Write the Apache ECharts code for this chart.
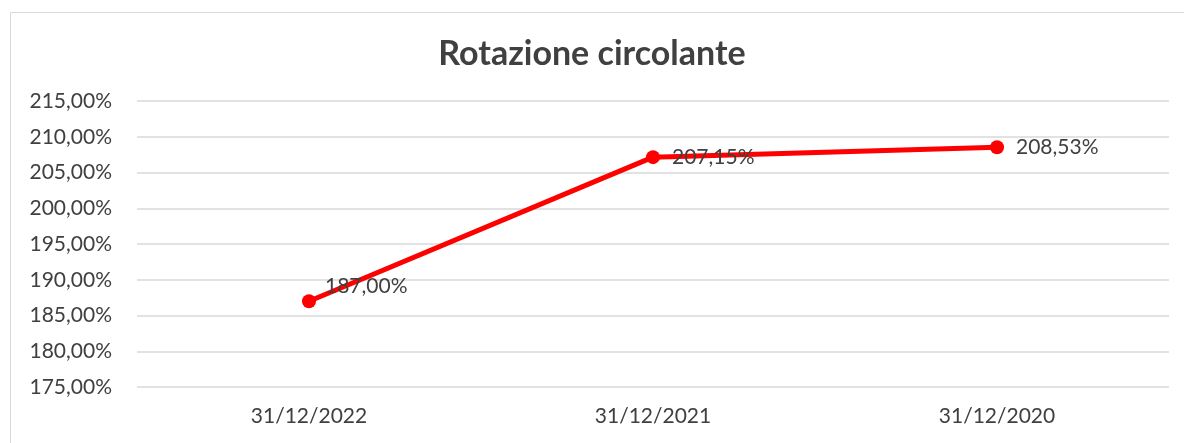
<!DOCTYPE html>
<html>
<head>
<meta charset="utf-8">
<script src="https://cdn.jsdelivr.net/npm/echarts@6/dist/echarts.min.js"></script>
<style>
  html, body { margin: 0; padding: 0; background: #fff; }
  #chart { width: 1184px; height: 443px; }
</style>
</head>
<body>
<div id="chart"></div>
<script>
// dati
const categories = ['31/12/2022', '31/12/2021', '31/12/2020'];
const values = [187.00, 207.15, 208.53];
const yMin = 175, yMax = 215, yStep = 5;

const font = 'Lato, "Open Sans", sans-serif';
const fmt = v => v.toFixed(2).replace('.', ',') + '%';

const chart = echarts.init(document.getElementById('chart'));

const seriesData = values.map((v, i) => ({
  value: v,
  // prima etichetta spostata un po' in alto come nell'originale
  label: i === 0 ? { offset: [-3, -15] } : {}
}));

chart.setOption({
  animation: false,
  graphic: [{
    type: 'rect',
    left: 8, top: 10,
    shape: { width: 1300, height: 500 },
    style: { fill: 'none', stroke: '#d9d9d9', lineWidth: 1 },
    silent: true
  }],
  title: {
    text: 'Rotazione circolante',
    left: 'center',
    top: 32,
    textStyle: { fontFamily: font, fontSize: 34, fontWeight: 'bold', color: '#404040' }
  },
  grid: { left: 137, right: 15, top: 101, bottom: 56, containLabel: false },
  xAxis: {
    type: 'category',
    data: categories,
    axisLine: { show: false },
    axisTick: { show: false },
    axisLabel: { fontFamily: font, fontSize: 21, color: '#404040', margin: 19 }
  },
  yAxis: {
    type: 'value',
    min: yMin, max: yMax, interval: yStep,
    axisLine: { show: false },
    axisTick: { show: false },
    splitLine: { lineStyle: { color: '#d9d9d9', width: 1.5 } },
    axisLabel: { fontFamily: font, fontSize: 21, color: '#404040', margin: 25, formatter: v => fmt(v) }
  },
  series: [{
    type: 'line',
    data: seriesData,
    symbol: 'circle',
    symbolSize: 14,
    lineStyle: { color: '#ff0000', width: 5 },
    itemStyle: { color: '#ff0000' },
    label: {
      show: true,
      position: 'right',
      distance: 12,
      fontFamily: font,
      fontSize: 21,
      color: '#404040',
      formatter: p => fmt(p.value)
    }
  }]
});
</script>
</body>
</html>
